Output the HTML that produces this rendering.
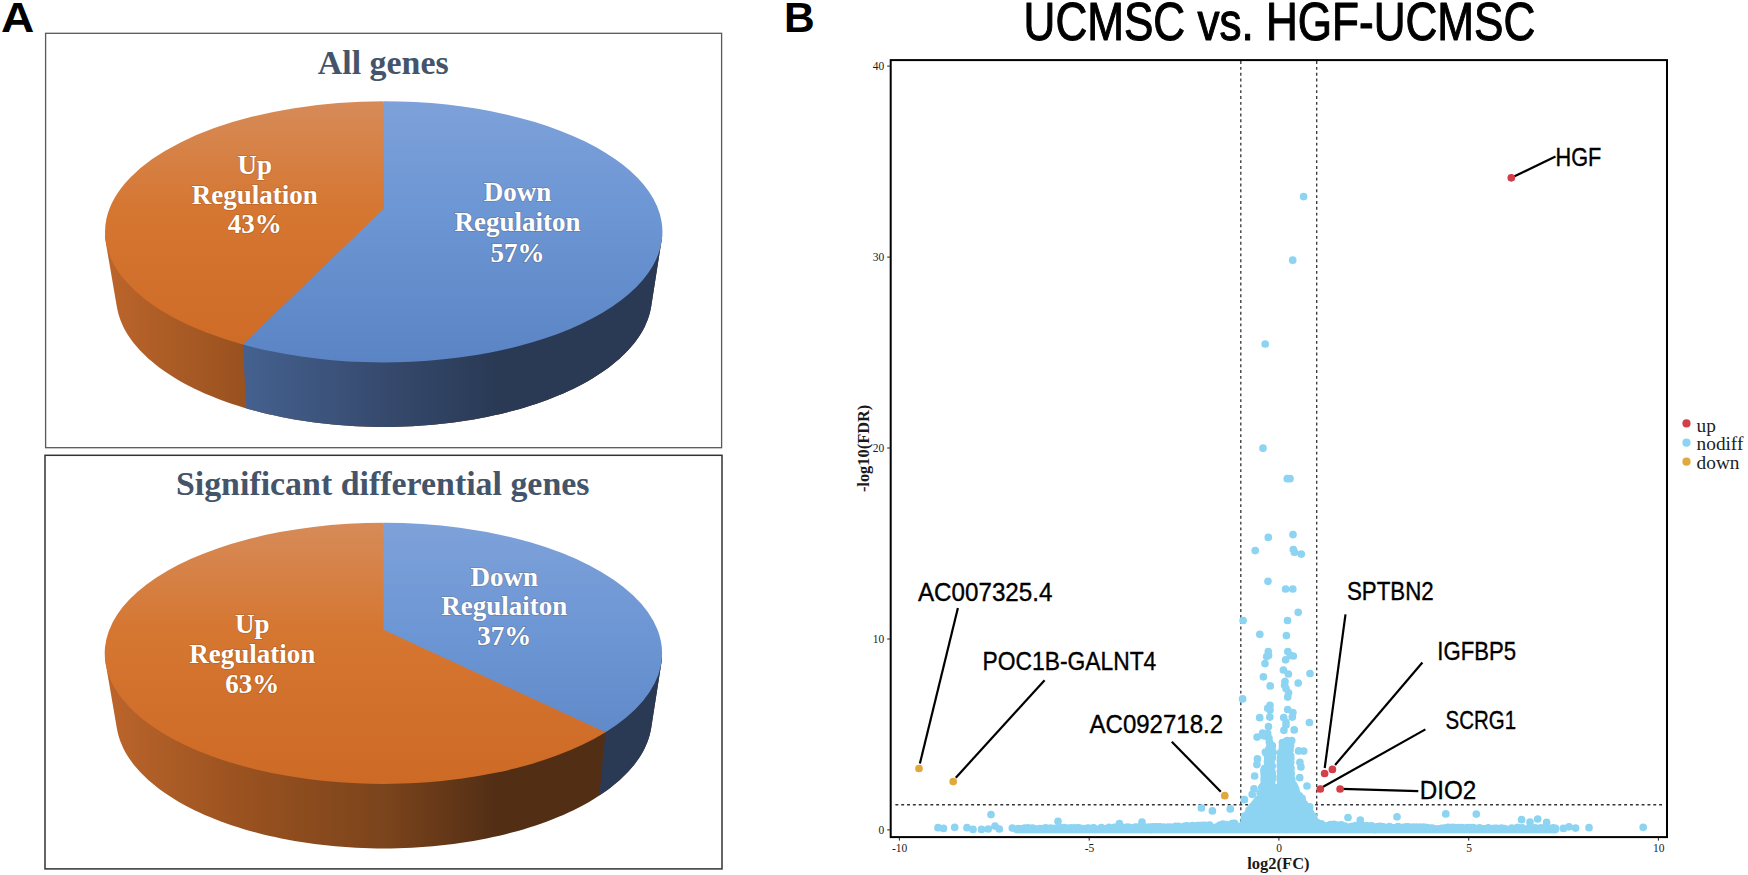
<!DOCTYPE html>
<html lang="en"><head><meta charset="utf-8"><title>Figure</title>
<style>
html,body{margin:0;padding:0;background:#fff;}
body{width:1748px;height:875px;overflow:hidden;}
svg{display:block}
.ser{font-family:"Liberation Serif",serif;font-weight:bold}
.lbl{font-family:"Liberation Serif",serif;font-weight:bold;font-size:27px;fill:#fff;text-anchor:middle;stroke:rgba(90,45,10,0.22);stroke-width:1.6px;paint-order:stroke}
.ttl{font-family:"Liberation Serif",serif;font-weight:bold;font-size:33.9px;fill:#44546A;text-anchor:middle}
.pan{font-family:"Liberation Sans",sans-serif;font-weight:bold;font-size:43.2px;fill:#000}
</style></head><body>
<svg width="1748" height="875" viewBox="0 0 1748 875">
<rect width="1748" height="875" fill="#fff"/>
<text class="pan" transform="translate(1.1 32.3) scale(1.067 1)">A</text>
<text class="pan" transform="translate(784 32.3) scale(0.985 1)">B</text>
<rect x="45.6" y="33.3" width="676" height="414.4" fill="#fff" stroke="#595959" stroke-width="1.3"/>
<rect x="45" y="455.3" width="677" height="413.6" fill="#fff" stroke="#333" stroke-width="1.5"/>
<g id="pie1">
<defs>
<linearGradient id="ot1" gradientUnits="userSpaceOnUse" x1="0" y1="101.2" x2="0" y2="362.3"><stop offset="0" stop-color="#D78B58"/><stop offset="0.42" stop-color="#D57631"/><stop offset="1" stop-color="#CD6A26"/></linearGradient>
<linearGradient id="bt1" gradientUnits="userSpaceOnUse" x1="0" y1="101.2" x2="0" y2="362.3"><stop offset="0" stop-color="#7EA1D9"/><stop offset="0.42" stop-color="#6C96D4"/><stop offset="1" stop-color="#5A84C3"/></linearGradient>
<linearGradient id="os1" gradientUnits="userSpaceOnUse" x1="105" y1="0" x2="662" y2="0"><stop offset="0" stop-color="#BC652B"/><stop offset="0.26" stop-color="#98511F"/><stop offset="0.5" stop-color="#7B441C"/><stop offset="0.705" stop-color="#522E15"/><stop offset="1" stop-color="#522E15"/></linearGradient>
<linearGradient id="bs1" gradientUnits="userSpaceOnUse" x1="105" y1="0" x2="662" y2="0"><stop offset="0" stop-color="#4D6CA0"/><stop offset="0.26" stop-color="#44608E"/><stop offset="0.5" stop-color="#364A6E"/><stop offset="0.705" stop-color="#2A3A55"/><stop offset="1" stop-color="#2A3A55"/></linearGradient>
<clipPath id="hc1"><polygon points="662.1,235.2 661.8,238.6 661.3,242 651.2,306.6 650.5,310 649.7,313.4 648.7,316.8 647.5,320.2 646.1,323.5 644.6,326.9 642.9,330.2 641,333.5 638.9,336.7 636.6,340 634.2,343.2 631.6,346.3 628.8,349.5 625.9,352.6 622.8,355.6 619.5,358.7 616.1,361.6 612.5,364.6 608.8,367.5 604.9,370.3 600.8,373.1 596.6,375.8 592.3,378.5 587.8,381.2 583.2,383.7 578.4,386.2 573.5,388.7 568.5,391.1 563.3,393.4 558.1,395.6 552.7,397.8 547.1,399.9 541.5,402 535.8,403.9 530,405.8 524,407.7 518,409.4 511.9,411.1 505.7,412.7 499.4,414.2 493,415.6 486.6,417 480,418.2 473.5,419.4 466.8,420.5 460.1,421.5 453.4,422.5 446.6,423.3 439.7,424 432.8,424.7 425.9,425.3 419,425.8 412,426.2 405,426.5 398,426.7 391,426.9 384,426.9 377,426.9 370,426.7 363,426.5 356,426.2 349,425.8 342.1,425.3 335.2,424.7 328.3,424 321.4,423.3 314.6,422.5 307.9,421.5 301.2,420.5 294.5,419.4 288,418.2 281.4,417 275,415.6 268.6,414.2 262.3,412.7 256.1,411.1 250,409.4 244,407.7 238,405.8 232.2,403.9 226.5,402 220.9,399.9 215.3,397.8 209.9,395.6 204.7,393.4 199.5,391.1 194.5,388.7 189.6,386.2 184.8,383.7 180.2,381.2 175.7,378.5 171.4,375.8 167.2,373.1 163.1,370.3 159.2,367.5 155.5,364.6 151.9,361.6 148.5,358.7 145.2,355.6 142.1,352.6 139.2,349.5 136.4,346.3 133.8,343.2 131.4,340 129.1,336.7 127,333.5 125.1,330.2 123.4,326.9 121.9,323.5 120.5,320.2 119.3,316.8 118.3,313.4 117.5,310 116.8,306.6 105.7,242 105.2,238.6 104.9,235.2"/></clipPath>
</defs>
<polygon points="662.1,235.2 661.8,238.6 661.3,242 651.2,306.6 650.5,310 649.7,313.4 648.7,316.8 647.5,320.2 646.1,323.5 644.6,326.9 642.9,330.2 641,333.5 638.9,336.7 636.6,340 634.2,343.2 631.6,346.3 628.8,349.5 625.9,352.6 622.8,355.6 619.5,358.7 616.1,361.6 612.5,364.6 608.8,367.5 604.9,370.3 600.8,373.1 596.6,375.8 592.3,378.5 587.8,381.2 583.2,383.7 578.4,386.2 573.5,388.7 568.5,391.1 563.3,393.4 558.1,395.6 552.7,397.8 547.1,399.9 541.5,402 535.8,403.9 530,405.8 524,407.7 518,409.4 511.9,411.1 505.7,412.7 499.4,414.2 493,415.6 486.6,417 480,418.2 473.5,419.4 466.8,420.5 460.1,421.5 453.4,422.5 446.6,423.3 439.7,424 432.8,424.7 425.9,425.3 419,425.8 412,426.2 405,426.5 398,426.7 391,426.9 384,426.9 377,426.9 370,426.7 363,426.5 356,426.2 349,425.8 342.1,425.3 335.2,424.7 328.3,424 321.4,423.3 314.6,422.5 307.9,421.5 301.2,420.5 294.5,419.4 288,418.2 281.4,417 275,415.6 268.6,414.2 262.3,412.7 256.1,411.1 250,409.4 244,407.7 238,405.8 232.2,403.9 226.5,402 220.9,399.9 215.3,397.8 209.9,395.6 204.7,393.4 199.5,391.1 194.5,388.7 189.6,386.2 184.8,383.7 180.2,381.2 175.7,378.5 171.4,375.8 167.2,373.1 163.1,370.3 159.2,367.5 155.5,364.6 151.9,361.6 148.5,358.7 145.2,355.6 142.1,352.6 139.2,349.5 136.4,346.3 133.8,343.2 131.4,340 129.1,336.7 127,333.5 125.1,330.2 123.4,326.9 121.9,323.5 120.5,320.2 119.3,316.8 118.3,313.4 117.5,310 116.8,306.6 105.7,242 105.2,238.6 104.9,235.2" fill="url(#os1)"/>
<polygon clip-path="url(#hc1)" points="225.8,28.3 259.9,660.6 900,660.6 900,28.3" fill="url(#bs1)"/>
<ellipse cx="383.5" cy="231.8" rx="277.5" ry="129.4" fill="url(#bt1)"/>
<path d="M384 208.4L383.5 101.2A278.7 130.6 0 1 1 242.9 344.5Z" fill="url(#bt1)"/>
<path d="M384 208.4L383.5 101.2A278.7 130.6 0 0 0 242.9 344.5Z" fill="url(#ot1)"/>
</g>
<g id="pie2">
<defs>
<linearGradient id="ot2" gradientUnits="userSpaceOnUse" x1="0" y1="522.7" x2="0" y2="783.8"><stop offset="0" stop-color="#D78B58"/><stop offset="0.42" stop-color="#D57631"/><stop offset="1" stop-color="#CD6A26"/></linearGradient>
<linearGradient id="bt2" gradientUnits="userSpaceOnUse" x1="0" y1="522.7" x2="0" y2="783.8"><stop offset="0" stop-color="#7EA1D9"/><stop offset="0.42" stop-color="#6C96D4"/><stop offset="1" stop-color="#5A84C3"/></linearGradient>
<linearGradient id="os2" gradientUnits="userSpaceOnUse" x1="105" y1="0" x2="662" y2="0"><stop offset="0" stop-color="#BC652B"/><stop offset="0.26" stop-color="#98511F"/><stop offset="0.5" stop-color="#7B441C"/><stop offset="0.705" stop-color="#522E15"/><stop offset="1" stop-color="#522E15"/></linearGradient>
<linearGradient id="bs2" gradientUnits="userSpaceOnUse" x1="105" y1="0" x2="662" y2="0"><stop offset="0" stop-color="#4D6CA0"/><stop offset="0.26" stop-color="#44608E"/><stop offset="0.5" stop-color="#364A6E"/><stop offset="0.705" stop-color="#2A3A55"/><stop offset="1" stop-color="#2A3A55"/></linearGradient>
<clipPath id="hc2"><polygon points="662.1,656.7 661.8,660.1 661.3,663.5 651.2,728.1 650.5,731.5 649.7,734.9 648.7,738.3 647.5,741.7 646.1,745 644.6,748.4 642.9,751.7 641,755 638.9,758.2 636.6,761.5 634.2,764.7 631.6,767.8 628.8,771 625.9,774.1 622.8,777.1 619.5,780.2 616.1,783.1 612.5,786.1 608.8,789 604.9,791.8 600.8,794.6 596.6,797.3 592.3,800 587.8,802.7 583.2,805.2 578.4,807.7 573.5,810.2 568.5,812.6 563.3,814.9 558.1,817.1 552.7,819.3 547.1,821.4 541.5,823.5 535.8,825.4 530,827.3 524,829.2 518,830.9 511.9,832.6 505.7,834.2 499.4,835.7 493,837.1 486.6,838.5 480,839.7 473.5,840.9 466.8,842 460.1,843 453.4,844 446.6,844.8 439.7,845.5 432.8,846.2 425.9,846.8 419,847.3 412,847.7 405,848 398,848.2 391,848.4 384,848.4 377,848.4 370,848.2 363,848 356,847.7 349,847.3 342.1,846.8 335.2,846.2 328.3,845.5 321.4,844.8 314.6,844 307.9,843 301.2,842 294.5,840.9 288,839.7 281.4,838.5 275,837.1 268.6,835.7 262.3,834.2 256.1,832.6 250,830.9 244,829.2 238,827.3 232.2,825.4 226.5,823.5 220.9,821.4 215.3,819.3 209.9,817.1 204.7,814.9 199.5,812.6 194.5,810.2 189.6,807.7 184.8,805.2 180.2,802.7 175.7,800 171.4,797.3 167.2,794.6 163.1,791.8 159.2,789 155.5,786.1 151.9,783.1 148.5,780.2 145.2,777.1 142.1,774.1 139.2,771 136.4,767.8 133.8,764.7 131.4,761.5 129.1,758.2 127,755 125.1,751.7 123.4,748.4 121.9,745 120.5,741.7 119.3,738.3 118.3,734.9 117.5,731.5 116.8,728.1 105.7,663.5 105.2,660.1 104.9,656.7"/></clipPath>
</defs>
<polygon points="662.1,656.7 661.8,660.1 661.3,663.5 651.2,728.1 650.5,731.5 649.7,734.9 648.7,738.3 647.5,741.7 646.1,745 644.6,748.4 642.9,751.7 641,755 638.9,758.2 636.6,761.5 634.2,764.7 631.6,767.8 628.8,771 625.9,774.1 622.8,777.1 619.5,780.2 616.1,783.1 612.5,786.1 608.8,789 604.9,791.8 600.8,794.6 596.6,797.3 592.3,800 587.8,802.7 583.2,805.2 578.4,807.7 573.5,810.2 568.5,812.6 563.3,814.9 558.1,817.1 552.7,819.3 547.1,821.4 541.5,823.5 535.8,825.4 530,827.3 524,829.2 518,830.9 511.9,832.6 505.7,834.2 499.4,835.7 493,837.1 486.6,838.5 480,839.7 473.5,840.9 466.8,842 460.1,843 453.4,844 446.6,844.8 439.7,845.5 432.8,846.2 425.9,846.8 419,847.3 412,847.7 405,848 398,848.2 391,848.4 384,848.4 377,848.4 370,848.2 363,848 356,847.7 349,847.3 342.1,846.8 335.2,846.2 328.3,845.5 321.4,844.8 314.6,844 307.9,843 301.2,842 294.5,840.9 288,839.7 281.4,838.5 275,837.1 268.6,835.7 262.3,834.2 256.1,832.6 250,830.9 244,829.2 238,827.3 232.2,825.4 226.5,823.5 220.9,821.4 215.3,819.3 209.9,817.1 204.7,814.9 199.5,812.6 194.5,810.2 189.6,807.7 184.8,805.2 180.2,802.7 175.7,800 171.4,797.3 167.2,794.6 163.1,791.8 159.2,789 155.5,786.1 151.9,783.1 148.5,780.2 145.2,777.1 142.1,774.1 139.2,771 136.4,767.8 133.8,764.7 131.4,761.5 129.1,758.2 127,755 125.1,751.7 123.4,748.4 121.9,745 120.5,741.7 119.3,738.3 118.3,734.9 117.5,731.5 116.8,728.1 105.7,663.5 105.2,660.1 104.9,656.7" fill="url(#os2)"/>
<polygon clip-path="url(#hc2)" points="635,428.1 576,1036.3 900,1036.3 900,428.1" fill="url(#bs2)"/>
<ellipse cx="383.5" cy="653.2" rx="277.5" ry="129.4" fill="url(#ot2)"/>
<path d="M383.5 629.8L383.5 522.7A278.7 130.6 0 1 0 605.5 732.2Z" fill="url(#ot2)"/>
<path d="M383.5 629.8L383.5 522.7A278.7 130.6 0 0 1 605.5 732.2Z" fill="url(#bt2)"/>
</g>
<text class="ttl" x="383.2" y="74.3">All genes</text>
<text class="ttl" x="382.7" y="495.1">Significant differential genes</text>
<text class="lbl" x="254.7" y="174.1">Up</text>
<text class="lbl" x="254.7" y="203.5">Regulation</text>
<text class="lbl" x="254.7" y="233.3">43%</text>
<text class="lbl" x="517.5" y="201.4">Down</text>
<text class="lbl" x="517.5" y="231.4">Regulaiton</text>
<text class="lbl" x="517.5" y="261.6">57%</text>
<text class="lbl" x="252.3" y="633">Up</text>
<text class="lbl" x="252.3" y="663">Regulation</text>
<text class="lbl" x="252.3" y="693">63%</text>
<text class="lbl" x="504.3" y="585.6">Down</text>
<text class="lbl" x="504.3" y="615">Regulaiton</text>
<text class="lbl" x="504.3" y="644.6">37%</text>
<g stroke="#333" stroke-width="1.3" stroke-dasharray="2.9 2.93" fill="none">
<path d="M1240.8 61.07V832"/><path d="M1316.7 61.07V832"/><path d="M895.4 804.75H1662.5"/>
</g>
<path d="M1303.6 196.6h0M1292.7 260.2h0M1265.2 344h0M1263 448.2h0M1287.3 478.7h0M1290 478.7h0M1293 534.6h0M1268.3 537.4h0M1255.2 550.6h0M1293.3 549.5h0M1294.4 552.2h0M1301.3 554.1h0M1268 581.3h0M1285.6 589h0M1292.8 589h0M1298.2 612.3h0M1243.1 620.5h0M1287.5 620.5h0M1259.8 634.3h0M1286.4 635.6h0M1268.3 651.5h0M1266.7 656.5h0M1268.6 655.4h0M1287.8 651.5h0M1290 655.4h0M1293.3 656h0M1285.6 659.8h0M1265 663.6h0M1283.4 670h0M1288.4 674h0M1310 673.5h0M1263.4 676.8h0M1285 681.7h0M1298.2 683.1h0M1270.2 685.9h0M1284.9 681.7h0M1284.6 685.1h0M1286 688.6h0M1288.5 692.8h0M1287.7 697.1h0M1242.6 698.9h0M1270 705.4h0M1267.7 708.3h0M1270 709.9h0M1259.7 717.7h0M1269.8 717.1h0M1287.7 709.5h0M1292.9 712.6h0M1292.3 717.1h0M1283.7 717.5h0M1286 722.3h0M1286 725.1h0M1309.4 722.5h0M1268.5 726.6h0M1283.9 730.3h0M1294.2 729.9h0M1262.6 733.1h0M1257.1 737.1h0M1264.3 736h0M1267.7 733.7h0M1268.9 738.3h0M1269.4 741.7h0M1272.3 745.7h0M1291.7 740.6h0M1287.1 740.6h0M1283.7 742.3h0M1282.6 746.3h0M1298.6 750.9h0M1303.7 751.1h0M1265.4 752h0M1270 753.1h0M1257.4 758.9h0M1256.9 764.6h0M1299.9 762.3h0M1300.9 766.9h0M1254.6 776h0M1299.7 777.7h0M1254 788.8h0M1252.2 794.3h0M1244.4 799.7h0M1307 786h0M1201.4 808h0M1212.4 810.9h0M1230.3 808.9h0M991 814.6h0M1058 821.3h0M1119.4 823.5h0M1142 822h0M1445.8 813.9h0M1476.3 814.1h0M1521.6 819.7h0M1537.7 819h0M1530 822h0M1546.6 822.4h0M1397 816.8h0M1348 817.5h0M1360.3 820.2h0M938 827.7h0M943.5 828.4h0M954.7 827.3h0M967 827.7h0M973 829.4h0M981.5 829.4h0M988.2 829h0M995 826.1h0M999.3 829h0M1012.3 828.1h0M1563.4 828.4h0M1569 826.8h0M1575.6 828.1h0M1589 827.7h0M1643.2 827.3h0M1017 829.6h0M1016.5 829.3h0M1017.5 829.5h0M1019.6 829.6h0M1019.7 828.9h0M1018.3 828.7h0M1022.2 829.6h0M1020.8 828.8h0M1020.9 829.4h0M1024.8 829.6h0M1024.6 828.1h0M1023.7 829.2h0M1027.4 829.6h0M1027.8 827.8h0M1027.6 828.9h0M1030 829.6h0M1031.4 829.5h0M1031.1 829.1h0M1032.6 829.6h0M1031.5 829.4h0M1032 828.1h0M1035.2 829.6h0M1034.2 828.5h0M1035.6 828.9h0M1037.8 829.6h0M1037.9 829.5h0M1036.5 829.2h0M1040.4 829.6h0M1040.9 828.8h0M1039.8 828.5h0M1043 829.6h0M1042.9 829h0M1043.9 828.3h0M1045.6 829.6h0M1044.8 828.5h0M1045.7 827.9h0M1048.2 829.6h0M1048.9 829h0M1049.6 829.4h0M1050.8 829.6h0M1050.6 828.1h0M1049.8 828.7h0M1053.4 829.6h0M1052 828.3h0M1054.2 828.5h0M1056 829.6h0M1057.1 829h0M1056.6 828.4h0M1058.6 829.6h0M1058.8 828.7h0M1059.6 827.7h0M1061.2 829.6h0M1061.1 828.3h0M1059.9 828.2h0M1063.8 829.6h0M1064.2 827.6h0M1064.8 829h0M1066.4 829.6h0M1066.1 828.3h0M1065 828.7h0M1069 829.6h0M1068 829.4h0M1067.7 828h0M1071.6 829.6h0M1070.5 829.1h0M1071.3 827.8h0M1074.2 829.6h0M1072.9 828.7h0M1074.3 827.8h0M1076.8 829.6h0M1077.8 827.8h0M1076.1 828.7h0M1079.4 829.6h0M1079 827.8h0M1080.8 829.3h0M1082 829.6h0M1081 829.1h0M1081.2 828.6h0M1084.6 829.6h0M1084.9 829h0M1083.1 828.7h0M1087.2 829.6h0M1086.8 828.4h0M1088.6 828.1h0M1089.8 829.6h0M1089.8 828.3h0M1090.3 829.5h0M1092.4 829.6h0M1093.6 827.9h0M1093.5 827.9h0M1095 829.6h0M1094.7 828.7h0M1093.8 828.2h0M1097.6 829.6h0M1096.3 829.5h0M1096.7 829.2h0M1100.2 829.6h0M1099.7 829.5h0M1098.7 829.3h0M1102.8 829.6h0M1101.6 828.8h0M1101.4 827.6h0M1105.4 829.6h0M1105.7 829.3h0M1104.7 828.8h0M1108 829.6h0M1107.6 829.3h0M1109 827.3h0M1110.6 829.6h0M1110.5 828.5h0M1109.4 829.4h0M1113.2 829.6h0M1112.7 829h0M1114.2 829.2h0M1115.8 829.6h0M1114.4 827.3h0M1115.9 829.3h0M1118.4 829.6h0M1118.5 829.5h0M1118.5 827.3h0M1121 829.6h0M1122.1 827.9h0M1120.3 828.7h0M1123.6 829.6h0M1122.6 827.7h0M1123.7 827.7h0M1126.2 829.6h0M1125.7 829h0M1127.1 827.1h0M1128.8 829.6h0M1129.9 827.6h0M1129.8 827.7h0M1128 828.3h0M1131.4 829.6h0M1131 829.5h0M1130 828.9h0M1130.7 827.8h0M1134 829.6h0M1135.4 828.4h0M1135.3 827h0M1135.4 828.7h0M1136.6 829.6h0M1135.8 829h0M1135.7 829.1h0M1137 827.2h0M1139.2 829.6h0M1140.2 828.3h0M1139.7 827.5h0M1138 827.8h0M1141.8 829.6h0M1143 827.5h0M1142.6 828.3h0M1140.8 827.5h0M1144.4 829.6h0M1143.9 827.4h0M1145.8 828.5h0M1144.1 827h0M1147 829.6h0M1147.7 829.1h0M1145.9 829.2h0M1148.2 827.3h0M1149.6 829.6h0M1148.5 827.2h0M1151 827.7h0M1149.2 828h0M1152.2 829.6h0M1151.1 829.6h0M1153.6 827.7h0M1152.3 826.9h0M1154.8 829.6h0M1154.6 827h0M1155.8 829h0M1154.1 828.7h0M1157.4 829.6h0M1156.6 827.8h0M1156.7 828.3h0M1156.3 826.9h0M1160 829.6h0M1159.6 828.2h0M1160.3 826.8h0M1159.8 826.8h0M1162.6 829.6h0M1162.6 827.9h0M1162.7 829.5h0M1162.4 829h0M1165.2 829.6h0M1163.7 827.1h0M1164.2 828.1h0M1165.9 827.8h0M1167.8 829.6h0M1167.3 827.9h0M1168 827.1h0M1166.6 827.8h0M1170.4 829.6h0M1169.6 828.7h0M1171.2 827.9h0M1170.6 827.1h0M1173 829.6h0M1174.2 828.1h0M1173.3 827.9h0M1173 827.3h0M1175.6 829.6h0M1175.5 827.8h0M1175.5 826.3h0M1176.2 826.6h0M1178.2 829.6h0M1179.5 828.7h0M1178.4 826.3h0M1179.2 829.1h0M1180.8 829.6h0M1179.7 828h0M1179.5 828.7h0M1179.5 827.2h0M1183.4 829.6h0M1184.3 826.3h0M1182.4 827h0M1183.9 829.1h0M1186 829.6h0M1187.1 825.9h0M1185.2 826h0M1185.7 827.8h0M1188.6 829.6h0M1190.1 826.4h0M1187.6 827.9h0M1188.6 828.3h0M1191.2 829.6h0M1190.3 828.3h0M1191.9 829.5h0M1191.4 827.9h0M1193.8 829.6h0M1192.4 828.3h0M1194.2 827.5h0M1192.5 825.6h0M1196.4 829.6h0M1197.3 825.5h0M1195.2 828.5h0M1195 826.3h0M1199 829.6h0M1198.3 829h0M1198.8 825.7h0M1200 828.5h0M1201.6 829.6h0M1200.5 825.6h0M1201.8 826.5h0M1200.4 829.3h0M1204.2 829.6h0M1204.8 827.7h0M1202.9 825.4h0M1204.6 826h0M1206.8 829.6h0M1205.6 825.6h0M1205.5 825.6h0M1206.7 828h0M1209.4 829.6h0M1209.6 825.2h0M1208.7 829h0M1209.5 828.5h0M1212 829.6h0M1210.8 828.8h0M1210.7 828.6h0M1211.4 828.1h0M1214.6 829.6h0M1215.4 828.1h0M1214.6 828.7h0M1214.1 829.5h0M1217.2 829.6h0M1216.5 829.5h0M1217.9 826.7h0M1216.3 827.1h0M1219.8 829.6h0M1221.1 829h0M1220.8 827.3h0M1219.8 825.2h0M1222.4 829.6h0M1222.1 826.8h0M1223 824.2h0M1221.9 825h0M1225 829.6h0M1225.6 826h0M1224.7 827.6h0M1223.7 828.9h0M1227.6 829.6h0M1226.3 825.3h0M1226.9 828.6h0M1226.4 824.7h0M1230.2 829.6h0M1231.3 825.6h0M1229.5 828.1h0M1229.6 826.8h0M1232.8 829.6h0M1231.8 826.8h0M1232.1 823.6h0M1234.2 826.2h0M1235.4 829.6h0M1234.6 823.4h0M1234.8 827.3h0M1233.9 827.2h0M1238 829.6h0M1237.9 826.3h0M1237.1 826.3h0M1236.5 827.9h0M1240.6 829.6h0M1239.4 826.9h0M1239.2 829.4h0M1240 828h0M1243.2 829.6h0M1243.5 825.9h0M1244 825h0M1243.8 823.4h0M1245.8 829.6h0M1245.5 827.2h0M1247.3 828.5h0M1246.5 824.9h0M1248.4 829.6h0M1247 823.3h0M1249.6 824.9h0M1249.1 823.5h0M1251 829.6h0M1249.9 825.5h0M1251 823.1h0M1251.9 823.2h0M1253.6 829.6h0M1253.9 822.4h0M1254.1 824h0M1252.8 829.4h0M1256.2 829.6h0M1255.1 826.6h0M1255 822.7h0M1256.4 824.4h0M1258.8 829.6h0M1259.2 823.8h0M1258.8 829.6h0M1259.7 823.2h0M1261.4 829.6h0M1261.4 824.8h0M1261.9 829h0M1262.1 827.4h0M1264 829.6h0M1262.7 827.2h0M1264.7 827.7h0M1264.7 820.6h0M1266.6 829.6h0M1266.6 826h0M1266.5 823.1h0M1267.4 823.7h0M1269.2 829.6h0M1269.6 828.8h0M1268.1 827.1h0M1269.9 826.6h0M1271.8 829.6h0M1272 829.5h0M1270.5 826.9h0M1272.3 822.5h0M1274.4 829.6h0M1274.9 826.5h0M1274.4 824.7h0M1274.3 828.3h0M1277 829.6h0M1278.2 827.4h0M1278.4 819.3h0M1275.6 824.6h0M1279.6 829.6h0M1280.6 818.8h0M1279.4 826.6h0M1278.7 819.1h0M1282.2 829.6h0M1281.3 823.3h0M1281.1 824h0M1283.6 828.2h0M1284.8 829.6h0M1285.8 824.3h0M1286 822.3h0M1284 820.3h0M1287.4 829.6h0M1287.4 829.4h0M1285.9 824.7h0M1287.3 826.6h0M1290 829.6h0M1288.9 826.3h0M1289.4 821.5h0M1288.5 822.3h0M1292.6 829.6h0M1293.6 828.5h0M1293.9 822.9h0M1293.8 826.9h0M1295.2 829.6h0M1294.8 826.1h0M1296.7 824.3h0M1294.8 825.7h0M1297.8 829.6h0M1297.1 829.2h0M1296.6 822.3h0M1297.2 821.4h0M1300.4 829.6h0M1299.6 827.4h0M1300.4 828h0M1300 821.5h0M1303 829.6h0M1304.2 823h0M1303.4 822.2h0M1304.3 825.1h0M1305.6 829.6h0M1306.3 829.2h0M1306.3 826.1h0M1306.4 824.5h0M1308.2 829.6h0M1307.6 829.2h0M1309.5 828.6h0M1308.1 827h0M1310.8 829.6h0M1310.2 824.2h0M1312.2 827.7h0M1311.3 827.4h0M1313.4 829.6h0M1313.6 826.8h0M1312.4 828.4h0M1312.5 823.1h0M1316 829.6h0M1316 828.1h0M1317.2 822.7h0M1315.8 828.6h0M1318.6 829.6h0M1317.7 829h0M1318.1 829h0M1317.8 827.9h0M1321.2 829.6h0M1321.4 823.9h0M1321.9 826.9h0M1320.9 826.2h0M1323.8 829.6h0M1323.4 827.5h0M1322.5 827.9h0M1325.2 828.8h0M1326.4 829.6h0M1326.4 825.8h0M1327.5 828.3h0M1325.7 828.1h0M1329 829.6h0M1328.7 827h0M1330.4 824.6h0M1330.1 829.5h0M1331.6 829.6h0M1330.2 825.5h0M1332.8 826.9h0M1331.9 829.6h0M1334.2 829.6h0M1333.9 824.4h0M1335.2 824.8h0M1335.6 828.2h0M1336.8 829.6h0M1335.6 828.8h0M1336.9 825.9h0M1338.1 825.7h0M1339.4 829.6h0M1339.8 825.6h0M1339.3 826.7h0M1338 825.5h0M1342 829.6h0M1341.2 824.9h0M1342.4 828.1h0M1340.9 828.3h0M1344.6 829.6h0M1345 826.1h0M1343.4 829.3h0M1344.7 826.7h0M1347.2 829.6h0M1346.9 828.5h0M1347.5 829.5h0M1346.6 827.4h0M1349.8 829.6h0M1351.2 826.6h0M1351 827.4h0M1349 828.4h0M1352.4 829.6h0M1353.8 826.4h0M1351.8 829.5h0M1352.4 826.5h0M1355 829.6h0M1354.8 828.5h0M1355.5 825.5h0M1354.2 829.4h0M1357.6 829.6h0M1357.1 827.8h0M1358.1 828.7h0M1358.5 826.4h0M1360.2 829.6h0M1360.2 828.7h0M1361.6 828.3h0M1361.2 828.6h0M1362.8 829.6h0M1362 826.5h0M1362.2 825.7h0M1362.8 828.8h0M1365.4 829.6h0M1364.6 827.9h0M1365.9 825.8h0M1364.3 828h0M1368 829.6h0M1367.1 825.8h0M1366.9 829.4h0M1366.7 828.1h0M1370.6 829.6h0M1371.8 826.2h0M1371.3 825.8h0M1371.9 828.3h0M1373.2 829.6h0M1372.3 826.1h0M1373.9 829.5h0M1373.7 828.2h0M1375.8 829.6h0M1375.4 828.4h0M1374.8 829.6h0M1375.1 828.3h0M1378.4 829.6h0M1379.8 829.2h0M1379.8 828.9h0M1378 826.7h0M1381 829.6h0M1382 828.1h0M1379.6 827.9h0M1380.6 826.4h0M1383.6 829.6h0M1382.7 828.4h0M1384.8 829.5h0M1383.3 826.8h0M1386.2 829.6h0M1387 829.5h0M1384.8 829.4h0M1387.5 828.7h0M1388.8 829.6h0M1389.5 826.7h0M1388.3 828.7h0M1390.2 827.6h0M1391.4 829.6h0M1390.7 827.3h0M1390.8 828.7h0M1389.9 827.2h0M1394 829.6h0M1395.2 827.6h0M1395.3 829.5h0M1393.2 828.1h0M1396.6 829.6h0M1398 826.6h0M1396.3 828.8h0M1396.4 828.1h0M1399.2 829.6h0M1400.5 829h0M1400.1 827.4h0M1400.2 827.3h0M1401.8 829.6h0M1402.1 828.6h0M1401.3 828.5h0M1402.6 829.4h0M1404.4 829.6h0M1403.5 827.4h0M1403.6 829.4h0M1403 828h0M1407 829.6h0M1406.5 826.8h0M1408.2 826.8h0M1406.3 829.4h0M1409.6 829.6h0M1408.4 828.2h0M1410.2 828.3h0M1408.8 828.4h0M1412.2 829.6h0M1412.6 827.7h0M1412.9 827.2h0M1412.7 829.3h0M1414.8 829.6h0M1415.8 828.8h0M1415 828.6h0M1415.5 829.1h0M1417.4 829.6h0M1416.6 828.9h0M1416.4 827.2h0M1417.6 828.7h0M1420 829.6h0M1419.7 827h0M1420 829h0M1420.9 827.9h0M1422.6 829.6h0M1424.1 829.3h0M1422.5 827.5h0M1423.6 827.2h0M1425.2 829.6h0M1423.8 828.8h0M1424.1 829.1h0M1426.6 828.1h0M1427.8 829.6h0M1429.1 828.7h0M1428.9 828.5h0M1427.1 827.6h0M1430.4 829.6h0M1431.7 829.3h0M1430.7 828h0M1429.6 828.7h0M1433 829.6h0M1431.9 829.1h0M1432.3 828.1h0M1435.6 829.6h0M1436.1 829.1h0M1434.1 828.8h0M1438.2 829.6h0M1438.7 829.2h0M1437.6 829.1h0M1440.8 829.6h0M1441.7 828.3h0M1439.5 829.4h0M1443.4 829.6h0M1443.1 828.3h0M1443.8 829.4h0M1446 829.6h0M1445 828h0M1445.7 828.9h0M1448.6 829.6h0M1448 827.4h0M1448 828.3h0M1451.2 829.6h0M1450.8 828.7h0M1452.3 827.3h0M1453.8 829.6h0M1453.4 829.2h0M1454.5 829.1h0M1456.4 829.6h0M1454.9 827.6h0M1456.2 827.8h0M1459 829.6h0M1458.7 827.6h0M1458.9 829.2h0M1461.6 829.6h0M1460.1 828.4h0M1462 827.6h0M1464.2 829.6h0M1463 828.2h0M1463.8 828.5h0M1466.8 829.6h0M1465.7 829h0M1466.9 827.6h0M1469.4 829.6h0M1468.2 828.6h0M1470.3 827.5h0M1472 829.6h0M1471.1 829.3h0M1473.3 827.5h0M1474.6 829.6h0M1474.5 829.5h0M1475.9 828.8h0M1477.2 829.6h0M1478.4 828.3h0M1478.2 829.3h0M1479.8 829.6h0M1480.7 829.1h0M1479.5 827.9h0M1482.4 829.6h0M1483.4 829.2h0M1481.6 828.8h0M1485 829.6h0M1485.1 828.8h0M1483.9 829.1h0M1487.6 829.6h0M1488.3 827.8h0M1486.2 828.5h0M1490.2 829.6h0M1491 829.5h0M1491.2 829.4h0M1492.8 829.6h0M1493.1 828.5h0M1493.2 829h0M1495.4 829.6h0M1495.2 828.4h0M1495.2 828.3h0M1498 829.6h0M1497.8 828.7h0M1496.6 828.4h0M1500.6 829.6h0M1500.6 829.1h0M1501.4 828.1h0M1503.2 829.6h0M1503.1 829.2h0M1503.1 829.4h0M1505.8 829.6h0M1504.7 828.8h0M1504.6 828.7h0M1508.4 829.6h0M1508.4 829.5h0M1508.8 829.4h0M1511 829.6h0M1511.7 828.1h0M1511 829.5h0M1513.6 829.6h0M1513.6 828.9h0M1515 829.3h0M1516.2 829.6h0M1517.3 827.7h0M1516.9 828h0M1518.8 829.6h0M1517.9 827.7h0M1518.8 827.8h0M1521.4 829.6h0M1522.6 829.3h0M1522.3 827.8h0M1524 829.6h0M1522.7 828.9h0M1524.8 829.3h0M1526.6 829.6h0M1527.8 829.1h0M1527.5 829.3h0M1529.2 829.6h0M1529.2 827.9h0M1528.3 829.1h0M1531.8 829.6h0M1531.8 829h0M1530.4 829.3h0M1534.4 829.6h0M1533.4 827.9h0M1534.9 827.9h0M1537 829.6h0M1536 828.1h0M1535.8 828.6h0M1539.6 829.6h0M1540 828.9h0M1540.7 828.6h0M1542.2 829.6h0M1542.4 828h0M1541 827.8h0M1544.8 829.6h0M1545.2 828.9h0M1545.7 829.1h0M1547.4 829.6h0M1548.9 828.5h0M1547 828.2h0M1550 829.6h0M1549.8 829.3h0M1550.7 829.5h0M1552.6 829.6h0M1553.6 829.1h0M1553 827.8h0M1555.2 829.6h0M1555.5 828.4h0M1554.6 829.6h0M1282.4 742.7h0M1286 743.4h0M1288 744.4h0M1289.5 742.9h0M1269.9 744.7h0M1270.8 745.5h0M1282.5 745.5h0M1285.1 746h0M1288.2 745.1h0M1290.6 745.7h0M1268.8 749.1h0M1271.3 747.3h0M1282.5 748.4h0M1286.5 748.7h0M1287.8 747.6h0M1289.2 748.4h0M1269.7 750.1h0M1272.2 750.3h0M1284.4 750.9h0M1285.1 751.3h0M1287 750.5h0M1290.1 749.8h0M1266.3 753.3h0M1268.5 752.8h0M1272.9 751.9h0M1280.4 752.9h0M1283.4 753h0M1286.4 752h0M1287.6 752.3h0M1289.3 753.6h0M1267.9 755.5h0M1268.5 755.8h0M1272.4 754.9h0M1281.6 754.9h0M1282.8 754.1h0M1285.1 754h0M1287.6 755.5h0M1290.7 755.8h0M1267.8 756.8h0M1269.7 757.2h0M1272.5 757.4h0M1280.6 757.6h0M1284.4 756.7h0M1286.5 756.2h0M1287.5 756.7h0M1290.8 758.3h0M1267.8 759.2h0M1270.4 759.2h0M1271.3 760.5h0M1281.4 760h0M1283.8 760.7h0M1285.6 760.3h0M1288.4 760.4h0M1290.2 760.1h0M1267.5 761.5h0M1269 762.2h0M1271 762.8h0M1280.3 760.9h0M1282.5 762.8h0M1285.4 761.1h0M1287 760.9h0M1290.7 762.2h0M1267.7 764.7h0M1268.6 764.4h0M1271.6 764.9h0M1281.8 765.1h0M1282.4 765h0M1286.6 765.2h0M1287.1 763.6h0M1289.4 763.2h0M1268.1 767.2h0M1269.9 767.2h0M1272.2 766h0M1280.2 765.6h0M1284 765.9h0M1285.3 766.3h0M1286.9 766h0M1289.8 767h0M1264.7 768.4h0M1268.3 768.8h0M1270.4 769.1h0M1270.9 768.6h0M1281 769.4h0M1283.1 769.3h0M1285.8 768.2h0M1288.8 767.9h0M1291 768.1h0M1263.9 770.4h0M1267.9 772.2h0M1268.5 771.1h0M1271.9 771.8h0M1280.4 771.1h0M1283.1 771.8h0M1285.2 772.1h0M1287.5 770.5h0M1290.7 771.1h0M1264.1 773.7h0M1266.4 774h0M1270 774h0M1272.2 773.1h0M1280.9 773.2h0M1284.3 772.5h0M1286.6 772.4h0M1287.4 772.9h0M1291.2 773.4h0M1264.7 776.5h0M1266.7 775.6h0M1269.7 776.3h0M1272.5 776h0M1280.8 775.3h0M1282.6 776.5h0M1286.1 776.2h0M1287.3 775.6h0M1290.9 775.9h0M1264.2 777.9h0M1268.1 777.4h0M1268.9 777.6h0M1272.3 778.8h0M1280.3 777.2h0M1282.8 777.6h0M1285.7 777.3h0M1287.6 777.3h0M1291.3 778.5h0M1291.7 779h0M1264.1 780h0M1268.4 780.9h0M1270.1 780.2h0M1271.2 780.6h0M1280.2 779.7h0M1283.2 779.3h0M1285.5 780.9h0M1288.4 780.3h0M1290.6 780.2h0M1291.8 780.5h0M1264.8 783.1h0M1268.2 782.4h0M1269.8 783.1h0M1271.7 782h0M1281.6 783.4h0M1284 783h0M1286.5 783h0M1288.3 782.5h0M1289.9 782.9h0M1291.7 782.4h0M1263.3 785.4h0M1265.3 784.4h0M1267.1 784.8h0M1269.9 784.7h0M1272.3 785.8h0M1280.4 785.2h0M1284 784.7h0M1285.7 785.9h0M1287 785h0M1289.6 785.5h0M1293.6 784.9h0M1261.8 787.4h0M1265.1 787.7h0M1267.3 787.5h0M1270.3 787.2h0M1271.7 788.2h0M1278.2 787.6h0M1280.9 787.8h0M1282.6 788.3h0M1285.4 786.2h0M1287.5 787h0M1289.2 787h0M1292.4 787.6h0M1294.6 786.7h0M1262.1 790h0M1266 789.6h0M1266.7 790.2h0M1269.4 788.9h0M1271.1 790.1h0M1274.9 789.8h0M1278.7 789.6h0M1280.5 790.5h0M1283.1 789.8h0M1286.4 790.2h0M1287.9 789h0M1290.4 788.7h0M1293.3 789.2h0M1295.7 789h0M1262.4 791.3h0M1264.8 791.1h0M1266.2 792.3h0M1269.1 791.2h0M1271.5 791.8h0M1274 792.1h0M1276.9 791.5h0M1279.7 792.6h0M1280.1 792.5h0M1284.3 792.4h0M1284.9 792.5h0M1288.3 790.7h0M1289.2 792.8h0M1292.9 791.3h0M1294 791h0M1296.6 792.4h0M1260.1 793.3h0M1263.6 794.7h0M1264.3 795h0M1267.5 794.7h0M1270 795h0M1272.5 794.8h0M1273.5 794.5h0M1276.6 794.6h0M1278.7 794.9h0M1281.2 793.6h0M1282.8 793.3h0M1285.7 793.1h0M1287.9 793.3h0M1290.3 794.1h0M1292.7 794.9h0M1293.8 794.8h0M1297.1 794.2h0M1260.8 797.1h0M1262.4 796.2h0M1266 795.5h0M1267.6 796.7h0M1268.6 796.6h0M1272.3 797.3h0M1273.8 797.5h0M1276.5 796.4h0M1279.7 795.4h0M1281.6 796.7h0M1283 797.2h0M1285.4 796.3h0M1288.1 797h0M1289.7 796.3h0M1292.4 796.5h0M1295.6 795.9h0M1297.9 796.2h0M1299.5 795.9h0M1258.1 799.7h0M1260.7 799.3h0M1262.3 798.3h0M1264.6 798.9h0M1267.6 799.3h0M1268.6 799.2h0M1272.7 798.8h0M1273.2 798.3h0M1275.4 798h0M1279.7 798.9h0M1281.4 799.3h0M1284.3 798.9h0M1286 799h0M1288.4 798.9h0M1290.7 798.1h0M1293 798.6h0M1295.5 797.8h0M1296.5 797.7h0M1300.1 799.6h0M1302.1 798.4h0M1256.5 801.6h0M1258.2 800.5h0M1260 800.8h0M1262.3 800.8h0M1265.3 802h0M1266.3 801.1h0M1268.6 800.2h0M1272.6 801.2h0M1275.1 800.9h0M1275.4 800.8h0M1279 802h0M1282.2 800.9h0M1283.2 800.1h0M1286 800.4h0M1287.2 799.9h0M1289.2 801.4h0M1291.8 802h0M1294 801.8h0M1296.4 799.9h0M1300 800.4h0M1302.3 800.3h0M1254.8 803.9h0M1258.6 804.1h0M1260.9 802.4h0M1263 803.8h0M1264.9 804.3h0M1266.8 804.3h0M1270.1 802.2h0M1270.8 803.6h0M1274.9 802.4h0M1276.1 803.8h0M1278.1 804.1h0M1281.1 802.3h0M1283.1 803.5h0M1285.6 803.7h0M1287.2 804h0M1290 803.6h0M1292.9 803.1h0M1294.6 803.9h0M1298.2 803.9h0M1299.6 802.8h0M1300.8 804.3h0M1304.5 804h0M1253.1 805.8h0M1256.9 806.3h0M1258.3 805.2h0M1260.2 806.5h0M1262.4 806h0M1265.2 806.5h0M1268 805.1h0M1268.5 805.1h0M1271.7 805.8h0M1274.9 806.5h0M1275.5 806.3h0M1279.5 806.4h0M1281.3 805.1h0M1284.2 806.3h0M1286.1 806.5h0M1287.7 804.7h0M1290.4 806.3h0M1291.9 806.2h0M1295.8 805h0M1297.4 806h0M1299.4 805h0M1301.3 806.2h0M1304.7 805.5h0M1305.5 806.3h0M1251.8 807.3h0M1253.7 808.8h0M1256.6 807.9h0M1258 808.1h0M1259.7 807.2h0M1262 808.3h0M1264.7 808h0M1267.1 807.9h0M1268.8 806.9h0M1273 807.6h0M1273.3 808.2h0M1277.1 807.1h0M1279 807.6h0M1281.1 806.8h0M1282.4 809h0M1286.5 807.9h0M1288.1 807.4h0M1290.9 807.7h0M1293.6 808.5h0M1295.6 808.9h0M1296.7 806.9h0M1298.8 807.2h0M1300.9 806.9h0M1304.2 808.7h0M1306.3 808.9h0M1309.6 806.9h0M1249.1 810h0M1250.4 811.2h0M1253 810.3h0M1256.1 811.2h0M1258.5 810h0M1260.3 809.5h0M1263.7 811.3h0M1264.4 809.2h0M1266.8 809.9h0M1270.5 811.1h0M1272.6 809.2h0M1274.8 810.7h0M1276.8 811.3h0M1277.8 809.4h0M1281.7 811.2h0M1283.8 809.8h0M1285.9 810.8h0M1287.1 809.8h0M1289.8 809.4h0M1292.6 809.5h0M1294.3 809.4h0M1297.6 809.1h0M1300 809.5h0M1300.8 811.1h0M1303.5 811.2h0M1307.2 811.1h0M1307.9 810.1h0M1248 813.4h0M1252 812.8h0M1253.4 812.1h0M1256.5 812.5h0M1258.4 811.7h0M1259.8 811.5h0M1263.2 812.6h0M1264.2 813.3h0M1266.8 812.3h0M1268.8 812h0M1272.6 812.1h0M1273.5 812.5h0M1276.1 813.4h0M1278 813.6h0M1280.1 813.4h0M1283.8 811.9h0M1285.7 812h0M1287.5 811.8h0M1290 813.6h0M1293.7 813.4h0M1294 812h0M1298.1 811.5h0M1300 812h0M1302.9 811.4h0M1304.8 812.1h0M1305.6 811.4h0M1309.4 812.6h0M1310.3 812.4h0M1247.5 814.2h0M1249.1 814h0M1250.5 815.4h0M1254 814.1h0M1254.9 813.9h0M1258.3 814.8h0M1259.9 814.2h0M1262.9 815.3h0M1265.7 815h0M1266.6 813.8h0M1270.1 814.6h0M1272.4 813.8h0M1274.9 814.4h0M1277.3 815.6h0M1278.8 813.7h0M1282 814.7h0M1284.2 814.3h0M1285 815.5h0M1287.7 814.1h0M1290 815h0M1291.5 814.8h0M1294.8 814.8h0M1296.4 815.3h0M1300.2 815.6h0M1301.4 815.3h0M1303.8 815.4h0M1305.4 815.6h0M1309.7 814.8h0M1311 814.9h0M1244.4 816h0M1247.6 816.5h0M1248.2 816.2h0M1250.7 817.8h0M1252.5 816.2h0M1256.2 816.4h0M1257 817.3h0M1260.6 817.2h0M1263.1 816.2h0M1265.8 817.6h0M1266.3 816.3h0M1269.6 817.1h0M1271.4 816.3h0M1274 816.3h0M1276.7 817.9h0M1278 817.3h0M1281.6 816.4h0M1284.1 818.1h0M1285.5 816.9h0M1288.7 817.2h0M1290.1 818.1h0M1293.2 816.7h0M1294.3 816.7h0M1297.1 818.2h0M1300.2 818h0M1302.5 817.9h0M1303.1 817.1h0M1307.4 818.1h0M1308.1 816.9h0M1311.3 816.8h0M1313.4 816.2h0M1244.2 819.4h0M1245.5 818.6h0M1249.9 820h0M1252.2 819.7h0M1254.2 820.2h0M1256.6 818.4h0M1258.4 818.9h0M1260.8 818.9h0M1262.8 820.3h0M1265.3 818.9h0M1267.3 819.3h0M1270.6 818.9h0M1271.5 819.7h0M1273.4 819.6h0M1277.5 819.4h0M1278.3 819.3h0M1281.2 818.6h0M1282.6 818.6h0M1285.2 819.2h0M1287.5 818.8h0M1289.4 819.5h0M1293.3 819.6h0M1295.1 819.7h0M1296.5 819.9h0M1299.4 819.5h0M1302 819.3h0M1303.7 818.8h0M1305.8 819.4h0M1308.4 819.6h0M1309.9 819.1h0M1314.1 818.8h0M1244.4 821.7h0M1246.1 822.8h0M1248.5 822.3h0M1250.4 820.7h0M1254.3 821.6h0M1254.8 821.5h0M1258 822.2h0M1259.5 821.1h0M1263.7 822.2h0M1264.2 821.3h0M1267 822.1h0M1269.9 822.5h0M1272.6 821.7h0M1274.7 822.2h0M1277.1 821.6h0M1279.4 822.2h0M1282 820.9h0M1284.2 820.6h0M1286.3 821.9h0M1288 822.7h0M1290.5 821.5h0M1293.2 822.5h0M1295.1 821.4h0M1297.1 821.6h0M1300 821.2h0M1301.6 821.8h0M1303.8 821.3h0M1307 822.5h0M1308.7 821.6h0M1310.3 821.3h0M1312.5 821.9h0M1244.5 823.1h0M1247.5 823.6h0M1249.7 824.7h0M1252.2 823.3h0M1253.3 824.9h0M1254.7 823h0M1258.2 824h0M1261.3 824.6h0M1262.8 825.1h0M1265 824h0M1267.7 823.8h0M1269.3 824.2h0M1271.6 825h0M1274.6 824.1h0M1275.6 823.7h0M1278.6 824.1h0M1281.3 824.8h0M1284.4 824h0M1285.6 824.3h0M1289.1 823.7h0M1290.4 824.7h0M1291.9 823.6h0M1296 824.7h0M1297.2 823.1h0M1300.4 824.4h0M1302.5 825.1h0M1305 823.8h0M1305.6 823.5h0M1308.7 824h0M1310.3 823.3h0M1313.6 824.2h0M1315.3 825.1h0M1242.3 825.3h0M1244.1 826.9h0M1246.2 826.7h0M1247.8 825.9h0M1252 826.5h0M1253.9 825.6h0M1255.8 826.4h0M1257.6 826.6h0M1260.5 827.4h0M1262.9 826.1h0M1264.2 825.5h0M1267.9 825.4h0M1268.7 825.6h0M1271.9 827h0M1274.4 827h0M1275.5 825.2h0M1279.4 825.9h0M1281.6 826h0M1282.7 825.8h0M1284.8 827.2h0M1288.2 826h0M1290.2 826h0M1291.6 827.2h0M1295.1 827.3h0M1297.1 826.6h0M1298.9 825.3h0M1302.7 827.1h0M1303.7 827.2h0M1307.1 825.9h0M1308.9 827.3h0M1311 827.3h0M1312.7 826.1h0M1316.1 825.7h0M1241.6 829.4h0M1244.3 829.2h0M1246 827.9h0M1248.6 827.9h0M1252.2 828.1h0M1253.6 827.8h0M1255.9 828.3h0M1257.9 827.6h0M1259.6 829.3h0M1262.4 828h0M1264.3 828.1h0M1266.7 827.6h0M1270 828.3h0M1271.1 829.1h0M1273.3 828.1h0M1277.2 827.8h0M1278.7 829.3h0M1281.8 827.9h0M1283.1 829.1h0M1285.4 829.6h0M1287.4 829.6h0M1290.3 828h0M1292.5 827.8h0M1295.4 828.1h0M1298.1 828.8h0M1299.2 828h0M1302 828h0M1304.9 827.8h0M1306.4 828.7h0M1308.2 829.2h0M1310.7 828.9h0M1313.4 828.2h0M1315.4 827.7h0" stroke="#8DD4F2" stroke-width="7.7" stroke-linecap="round" fill="none"/>
<g stroke="#000" stroke-width="2.2" fill="none">
<path d="M1514 176.5L1555.5 156.6"/>
<path d="M957.9 608.1L919.9 763.4"/>
<path d="M1044.6 680.3L955.8 777.7"/>
<path d="M1171.8 741.8L1220.8 791.7"/>
<path d="M1345.5 614.4L1324.7 768"/>
<path d="M1422.4 662.5L1335.1 765"/>
<path d="M1425.4 729.4L1322.3 787.3"/>
<path d="M1418.3 791.2L1341.6 788.8"/>
</g>
<path d="M1511.3 177.8h0M1324.6 773.5h0M1332.4 769.4h0M1320.3 789h0M1340.1 789h0" stroke="#D33F49" stroke-width="7.7" stroke-linecap="round" fill="none"/>
<path d="M919 768.5h0M953.2 781.6h0M1224.8 795.7h0" stroke="#E1A83E" stroke-width="7.7" stroke-linecap="round" fill="none"/>
<rect x="890.7" y="60.1" width="776.3" height="777" fill="none" stroke="#000" stroke-width="2"/>
<g stroke="#222" stroke-width="1" fill="none">
<path d="M899.4 838V840.6"/>
<path d="M1089.2 838V840.6"/>
<path d="M1278.9 838V840.6"/>
<path d="M1468.7 838V840.6"/>
<path d="M1658.4 838V840.6"/>
<path d="M887.2 829.9H890"/>
<path d="M887.2 639H890"/>
<path d="M887.2 448H890"/>
<path d="M887.2 257.1H890"/>
<path d="M887.2 66.1H890"/>
</g>
<g font-family="'Liberation Serif', serif" font-size="11.5" fill="#1a1a1a">
<text x="899.7" y="851.9" text-anchor="middle">-10</text>
<text x="1089.5" y="851.9" text-anchor="middle">-5</text>
<text x="1279.2" y="851.9" text-anchor="middle">0</text>
<text x="1469" y="851.9" text-anchor="middle">5</text>
<text x="1658.7" y="851.9" text-anchor="middle">10</text>
<text x="884.3" y="833.7" text-anchor="end">0</text>
<text x="884.3" y="642.8" text-anchor="end">10</text>
<text x="884.3" y="451.8" text-anchor="end">20</text>
<text x="884.3" y="260.9" text-anchor="end">30</text>
<text x="884.3" y="69.9" text-anchor="end">40</text>
</g>
<text x="1278.4" y="868.8" text-anchor="middle" font-family="'Liberation Serif', serif" font-weight="bold" font-size="16.5" fill="#1a1a1a">log2(FC)</text>
<text transform="translate(869.2 448.4) rotate(-90)" text-anchor="middle" font-family="'Liberation Serif', serif" font-weight="bold" font-size="16.4" fill="#1a1a1a">-log10(FDR)</text>
<path d="M1686.5 423.4h0" stroke="#D33F49" stroke-width="8.2" stroke-linecap="round" fill="none"/>
<path d="M1686.5 442.7h0" stroke="#8DD4F2" stroke-width="8.2" stroke-linecap="round" fill="none"/>
<path d="M1686.5 461.7h0" stroke="#E1A83E" stroke-width="8.2" stroke-linecap="round" fill="none"/>
<g font-family="'Liberation Serif', serif" font-size="19.3" fill="#222">
<text x="1696.6" y="431.7">up</text><text x="1696.6" y="450.4">nodiff</text><text x="1696.6" y="469.4">down</text>
</g>
<g font-family="'Liberation Sans', sans-serif" fill="#000">
<text x="1555.5" y="165.5" font-size="25.2" textLength="45.8" lengthAdjust="spacingAndGlyphs" stroke="#000" stroke-width="0.35">HGF</text>
<text x="917.9" y="601.1" font-size="25" textLength="134.6" lengthAdjust="spacingAndGlyphs" stroke="#000" stroke-width="0.35">AC007325.4</text>
<text x="982.5" y="669.9" font-size="25" textLength="173.8" lengthAdjust="spacingAndGlyphs" stroke="#000" stroke-width="0.35">POC1B-GALNT4</text>
<text x="1089.5" y="732.9" font-size="25" textLength="133.6" lengthAdjust="spacingAndGlyphs" stroke="#000" stroke-width="0.35">AC092718.2</text>
<text x="1346.9" y="600.1" font-size="25" textLength="86.8" lengthAdjust="spacingAndGlyphs" stroke="#000" stroke-width="0.35">SPTBN2</text>
<text x="1437.3" y="659.6" font-size="25" textLength="78.8" lengthAdjust="spacingAndGlyphs" stroke="#000" stroke-width="0.35">IGFBP5</text>
<text x="1445.6" y="728.8" font-size="25" textLength="70.5" lengthAdjust="spacingAndGlyphs" stroke="#000" stroke-width="0.35">SCRG1</text>
<text x="1419.7" y="798.6" font-size="25" textLength="56.5" lengthAdjust="spacingAndGlyphs" stroke="#000" stroke-width="0.35">DIO2</text>
<text x="1023.6" y="40.4" font-size="53.6" textLength="511.7" lengthAdjust="spacingAndGlyphs" stroke="#000" stroke-width="1.1" stroke-linejoin="round">UCMSC vs. HGF-UCMSC</text>
</g>
</svg>
</body></html>
